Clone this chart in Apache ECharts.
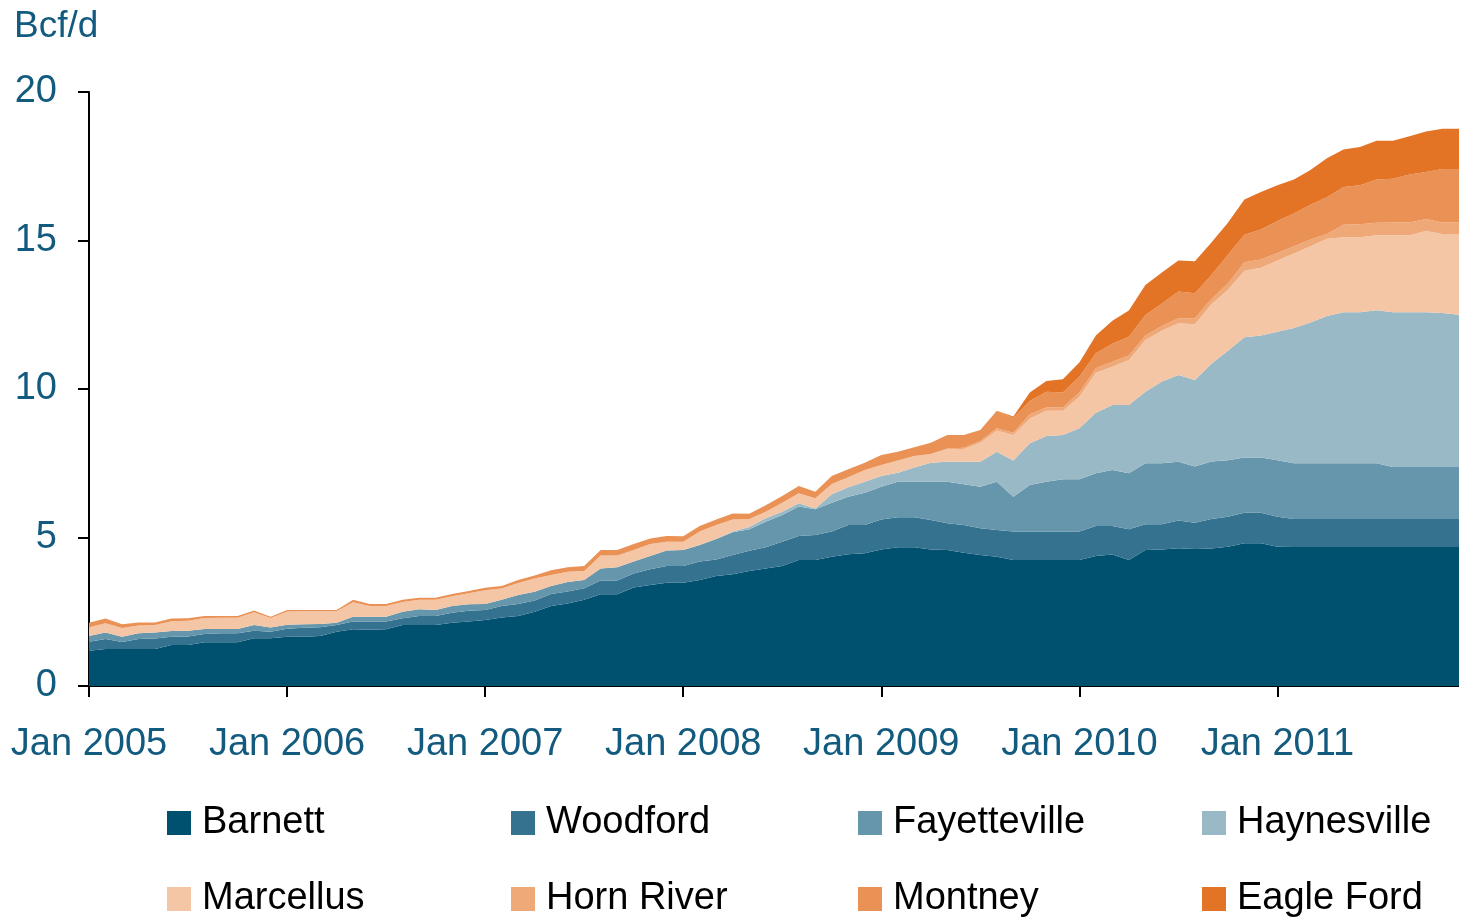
<!DOCTYPE html>
<html>
<head>
<meta charset="utf-8">
<script src="https://cdn.jsdelivr.net/npm/echarts@6/dist/echarts.min.js"></script>
<style>
html,body{margin:0;padding:0;background:#fff;}
#chart{width:1459px;height:918px;}
</style>
</head>
<body>
<div id="chart"></div>
<script>
// ---- data (Bcf/d, monthly Jan 2005 – Dec 2011) ----
const years = ['2005','2006','2007','2008','2009','2010','2011'];
const months = ['Jan','Feb','Mar','Apr','May','Jun','Jul','Aug','Sep','Oct','Nov','Dec'];
const categories = [];
years.forEach(y => months.forEach(m => categories.push(m + ' ' + y)));

const seriesNames = ['Barnett','Woodford','Fayetteville','Haynesville','Marcellus','Horn River','Montney','Eagle Ford'];

const barnett = [
  1.19,1.25,1.25,1.25,1.25,1.38,1.38,1.47,1.47,1.47,1.61,1.61,
  1.66,1.66,1.68,1.83,1.91,1.89,1.91,2.05,2.05,2.05,2.13,2.17,
  2.22,2.31,2.36,2.50,2.69,2.78,2.90,3.09,3.09,3.32,3.40,3.48,
  3.48,3.57,3.70,3.76,3.87,3.96,4.04,4.24,4.24,4.35,4.44,4.47,
  4.60,4.67,4.67,4.60,4.58,4.49,4.41,4.35,4.24,4.24,4.24,4.24,
  4.24,4.38,4.43,4.24,4.58,4.60,4.64,4.61,4.63,4.69,4.81,4.81,
  4.69,4.68,4.68,4.68,4.68,4.68,4.68,4.68,4.68,4.68,4.68,4.68
];
const woodford = [
  0.30,0.33,0.23,0.33,0.35,0.28,0.29,0.28,0.31,0.31,0.25,0.22,
  0.27,0.30,0.30,0.22,0.26,0.28,0.26,0.23,0.31,0.31,0.34,0.36,
  0.34,0.38,0.40,0.38,0.41,0.40,0.39,0.46,0.46,0.47,0.53,0.56,
  0.56,0.62,0.56,0.65,0.68,0.71,0.82,0.81,0.84,0.85,0.98,0.95,
  1.01,1.01,1.01,0.99,0.90,0.93,0.90,0.90,0.96,0.96,0.96,0.96,
  0.96,1.01,0.96,1.04,0.87,0.85,0.93,0.89,0.99,1.01,1.02,1.02,
  1.01,0.94,0.94,0.94,0.94,0.94,0.94,0.94,0.94,0.94,0.94,0.94
];
const fayetteville = [
  0.19,0.22,0.18,0.20,0.20,0.19,0.19,0.17,0.14,0.14,0.19,0.14,
  0.13,0.12,0.11,0.08,0.16,0.16,0.16,0.22,0.22,0.20,0.22,0.22,
  0.20,0.21,0.30,0.29,0.27,0.32,0.28,0.41,0.45,0.40,0.45,0.52,
  0.54,0.56,0.69,0.77,0.73,0.86,0.90,0.99,0.87,0.97,0.95,1.09,
  1.10,1.20,1.20,1.29,1.40,1.37,1.40,1.63,1.17,1.57,1.68,1.76,
  1.76,1.77,1.88,1.88,2.05,2.05,1.98,1.89,1.94,1.90,1.86,1.86,
  1.90,1.88,1.88,1.88,1.88,1.88,1.88,1.75,1.75,1.75,1.75,1.75
];
const haynesville = [
  0,0,0,0,0,0,0,0,0,0,0,0,
  0,0,0,0,0,0,0,0,0,0,0,0,
  0,0,0,0,0,0,0,0,0,0,0,0,
  0,0,0,0.02,0.07,0.12,0.11,0.11,0.03,0.29,0.32,0.37,
  0.36,0.30,0.48,0.64,0.67,0.76,0.84,1.01,1.22,1.40,1.54,1.49,
  1.72,2.04,2.19,2.30,2.41,2.75,2.92,2.91,3.29,3.69,4.05,4.11,
  4.33,4.55,4.74,4.96,5.08,5.08,5.15,5.21,5.21,5.21,5.19,5.13
];
const marcellus = [
  0.30,0.31,0.29,0.26,0.25,0.33,0.34,0.37,0.38,0.38,0.43,0.32,
  0.45,0.44,0.43,0.39,0.49,0.36,0.36,0.33,0.32,0.34,0.33,0.37,
  0.46,0.38,0.41,0.45,0.37,0.35,0.30,0.43,0.39,0.39,0.40,0.30,
  0.28,0.45,0.47,0.41,0.27,0.22,0.30,0.34,0.34,0.34,0.34,0.39,
  0.37,0.41,0.38,0.29,0.42,0.43,0.64,0.71,0.86,0.84,0.85,0.82,
  1.06,1.35,1.29,1.52,1.74,1.71,1.74,1.88,2.00,2.05,2.24,2.28,
  2.40,2.51,2.57,2.60,2.53,2.53,2.53,2.60,2.60,2.74,2.66,2.72
];
const hornRiver = [
  0,0,0,0,0,0,0,0,0,0,0,0,
  0,0,0,0,0,0,0,0,0,0,0,0,
  0,0,0,0,0,0,0,0,0,0,0,0,
  0,0,0,0,0,0,0,0,0,0,0,0,
  0,0,0,0,0.03,0.04,0.06,0.08,0.08,0.14,0.11,0.11,
  0.14,0.15,0.17,0.15,0.15,0.16,0.17,0.20,0.18,0.21,0.29,0.28,
  0.25,0.25,0.22,0.16,0.42,0.44,0.42,0.43,0.43,0.40,0.39,0.39
];
const montney = [
  0.15,0.16,0.13,0.10,0.09,0.09,0.08,0.07,0.06,0.06,0.06,0.04,
  0.05,0.04,0.04,0.04,0.08,0.07,0.07,0.07,0.07,0.07,0.08,0.08,
  0.09,0.09,0.10,0.10,0.16,0.15,0.17,0.19,0.19,0.20,0.19,0.19,
  0.18,0.19,0.19,0.20,0.18,0.22,0.23,0.24,0.22,0.27,0.27,0.25,
  0.34,0.30,0.30,0.38,0.45,0.43,0.37,0.59,0.49,0.45,0.53,0.50,
  0.53,0.50,0.60,0.63,0.69,0.76,0.90,0.84,0.81,0.97,0.92,1.01,
  1.08,1.10,1.17,1.24,1.27,1.31,1.45,1.47,1.61,1.59,1.80,1.80
];
const eagleFord = [
  0,0,0,0,0,0,0,0,0,0,0,0,
  0,0,0,0,0,0,0,0,0,0,0,0,
  0,0,0,0,0,0,0,0,0,0,0,0,
  0,0,0,0,0,0,0,0,0,0,0,0,
  0,0,0,0,0,0,0,0,0.05,0.28,0.36,0.45,
  0.48,0.60,0.78,0.88,1.01,1.04,1.05,1.08,1.09,1.08,1.19,1.26,
  1.20,1.14,1.17,1.31,1.26,1.29,1.31,1.28,1.29,1.36,1.35,1.35
];
const seriesData = [barnett, woodford, fayetteville, haynesville, marcellus, hornRiver, montney, eagleFord];
const colors = ['#00506F','#34728F','#6596AB','#9AB9C7','#F5C6A5','#EFA877','#EA9155','#E37325'];
const yTicks = [0, 5, 10, 15, 20];

// ---- layout ----
const FONT = '"Liberation Sans", Arial, Helvetica, sans-serif';
const labelColor = '#125b7e';
const legendCols = [167, 511, 858, 1202];
const legendRows = [804, 880];

const chart = echarts.init(document.getElementById('chart'));

const legends = seriesNames.map((name, i) => ({
  data: [name],
  left: legendCols[i % 4],
  top: legendRows[Math.floor(i / 4)],
  padding: 0,
  icon: 'rect',
  itemWidth: 24,
  itemHeight: 24,
  selectedMode: false,
  textStyle: {
    fontFamily: FONT,
    fontSize: 38,
    color: '#000',
    lineHeight: 24,
    padding: [0, 0, 0, 6]
  }
}));

chart.setOption({
  animation: false,
  backgroundColor: '#fff',
  color: colors,
  textStyle: { fontFamily: FONT },
  graphic: [{
    type: 'text',
    left: 14,
    top: 8,
    style: { text: 'Bcf/d', fontFamily: FONT, fontSize: 37, fill: labelColor }
  }],
  legend: legends,
  grid: { left: 89, right: 0, top: 92, bottom: 232, containLabel: false },
  xAxis: {
    type: 'category',
    data: categories,
    boundaryGap: false,
    axisLine: { show: true, lineStyle: { color: '#000', width: 2 } },
    axisTick: {
      show: true,
      length: 11,
      interval: (i) => i % 12 === 0,
      lineStyle: { color: '#000', width: 2 }
    },
    axisLabel: {
      interval: (i) => i % 12 === 0,
      margin: 40,
      fontFamily: FONT,
      fontSize: 38,
      color: labelColor
    },
    splitLine: { show: false }
  },
  yAxis: {
    type: 'value',
    min: yTicks[0],
    max: yTicks[yTicks.length - 1],
    interval: yTicks[1] - yTicks[0],
    axisLine: { show: true, lineStyle: { color: '#000', width: 2 } },
    axisTick: { show: true, length: 11, lineStyle: { color: '#000', width: 2 } },
    axisLabel: { margin: 32, fontFamily: FONT, fontSize: 38, color: labelColor },
    splitLine: { show: false }
  },
  series: seriesNames.map((name, i) => ({
    name: name,
    type: 'line',
    stack: 'total',
    data: seriesData[i],
    symbol: 'none',
    showSymbol: false,
    lineStyle: { width: 0 },
    areaStyle: { color: colors[i], opacity: 1 },
    itemStyle: { color: colors[i] },
    emphasis: { disabled: true }
  }))
});
</script>
</body>
</html>
